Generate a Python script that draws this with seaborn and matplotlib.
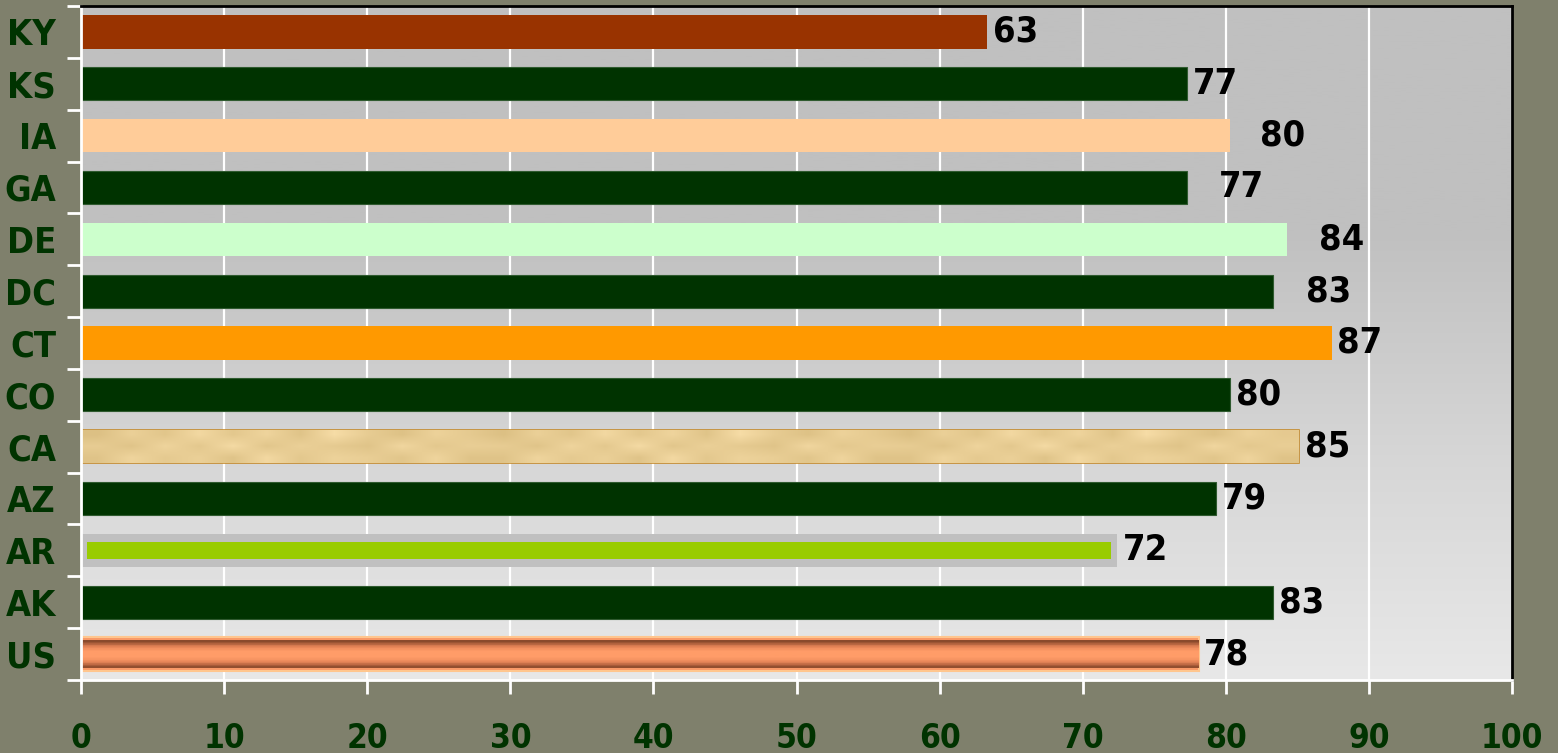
import numpy as np
import matplotlib
matplotlib.use("Agg")
import matplotlib.pyplot as plt
from matplotlib import font_manager
import seaborn as sns

# data
states = ['KY', 'KS', 'IA', 'GA', 'DE', 'DC', 'CT', 'CO', 'CA', 'AZ', 'AR', 'AK', 'US']
scores = [63.3, 77.3, 80.3, 77.3, 84.3, 83.3, 87.4, 80.3, 85.1, 79.3, 72.4, 83.3, 78.1]
labels = ['63', '77', '80', '77', '84', '83', '87', '80', '85', '79', '72', '83', '78']
bar_colors = ['#993300', '#003300', '#ffcc99', '#003300', '#ccffcc', '#003300', '#ff9900',
              '#003300', '#efd399', '#003300', '#c0c0c0', '#003300', '#f99a68']
# extra gap (in data units) between some bars and their value label
label_gap = {'IA': 1.7, 'GA': 1.8, 'DE': 1.8, 'DC': 1.9}

BG = '#7f806c'
TICK_GREEN = '#003300'

# the reference uses a narrow bold sans; take a condensed face if one is installed
allowed = {'Liberation Sans Narrow', 'DejaVu Sans', 'DejaVu Sans Condensed', 'Roboto Condensed',
           'Open Sans Condensed', 'Noto Sans Condensed', 'Liberation Sans'}
narrow = [f for f in font_manager.fontManager.ttflist
          if f.name in allowed and (f.stretch != 'normal' or 'Narrow' in f.name or 'Condensed' in f.name)
          and f.weight in (700, 'bold')]
if narrow:
    FONT = [narrow[0].name, 'DejaVu Sans']
    STRETCH = narrow[0].stretch
    LBL_SIZE, XT_SIZE = 26, 24
else:
    FONT = ['Liberation Sans', 'DejaVu Sans']
    STRETCH = 'normal'
    LBL_SIZE, XT_SIZE = 24, 22

sns.set_theme(style='white')
plt.rcParams['font.family'] = FONT

fig = plt.figure(figsize=(15.58, 7.53), dpi=100, facecolor=BG)
ax = fig.add_axes([0.052, 0.097, 0.9185, 0.895])

sns.barplot(x=scores, y=states, hue=states, palette=bar_colors, legend=False,
            orient='h', width=0.64, ax=ax, saturation=1, zorder=3)

# plot area gradient
grad = np.linspace(0, 1, 256).reshape(-1, 1)
ax.imshow(grad, extent=[0, 1, 0, 1], transform=ax.transAxes, aspect='auto',
          cmap=matplotlib.colors.LinearSegmentedColormap.from_list('bgg', ['#e8e8e8', '#d6d6d6', '#c0c0c0', '#c0c0c0']),
          origin='lower', zorder=0)

ax.set_xlim(0, 100)
ax.set_ylim(len(states) - 0.5, -0.5)

patches = ax.patches
for st, p in zip(states, patches):
    if bar_colors[states.index(st)] == '#003300':
        p.set_edgecolor('#2f5a2f')
        p.set_linewidth(0.8)
    else:
        p.set_edgecolor('none')

# CA: textured tan bar with brown border
ca = patches[states.index('CA')]
ca.set_edgecolor('#c48a2c')
ca.set_linewidth(1.2)
y0, h = ca.get_y(), ca.get_height()
tex = np.array([[0.2, 0.6, 0.35, 0.8, 0.4, 0.7, 0.3, 0.9, 0.5, 0.25, 0.65, 0.45] * 3,
                [0.5, 0.3, 0.7, 0.4, 0.85, 0.35, 0.6, 0.45, 0.3, 0.75, 0.4, 0.55] * 3,
                [0.3, 0.7, 0.45, 0.6, 0.3, 0.8, 0.4, 0.65, 0.55, 0.35, 0.7, 0.3] * 3])
im = ax.imshow(tex, extent=[0, ca.get_width(), y0 + h, y0], aspect='auto', zorder=3.5,
               interpolation='bilinear',
               cmap=matplotlib.colors.LinearSegmentedColormap.from_list('tan', ['#dcc084', '#f6dca6']))
im.set_clip_path(ca)

# US: copper tube look
us = patches[states.index('US')]
us.set_edgecolor('#ffc68e')
us.set_linewidth(1.5)
y0, h = us.get_y(), us.get_height()
tube = np.array([0.0, 0.25, 0.6, 0.85, 1.0, 1.0, 1.0, 0.9, 0.7, 0.35, 0.05]).reshape(-1, 1)
im2 = ax.imshow(tube, extent=[0, us.get_width(), y0 + h * 0.92, y0 + h * 0.08], aspect='auto', zorder=3.5,
                cmap=matplotlib.colors.LinearSegmentedColormap.from_list('cu', ['#8a4a2c', '#d97a50', '#ff9c68']))
im2.set_clip_path(us)

# AR: green core inside the grey bar
ar_i = states.index('AR')
ar = patches[ar_i]
ax.barh(ar_i, scores[ar_i] - 0.9, left=0.45, height=ar.get_height() * 0.5,
        color='#99cc00', edgecolor='none', zorder=4)

# value labels
for i, (st, v, lab) in enumerate(zip(states, scores, labels)):
    ax.text(v + 0.4 + label_gap.get(st, 0), i, lab, va='center', ha='left',
            fontsize=LBL_SIZE, fontweight='bold', fontstretch=STRETCH, color='black',
            zorder=5, family=FONT)

# grid and axes styling
ax.set_xticks(range(0, 101, 10))
ax.grid(axis='x', color='white', linewidth=1.6, zorder=1)
ax.grid(axis='y', visible=False)
ax.set_axisbelow(True)

ax.set_yticks(np.arange(-0.5, len(states), 1), minor=True)
ax.tick_params(axis='y', which='minor', left=True, length=10, width=2, color='white', direction='out')
ax.tick_params(axis='y', which='major', left=True, length=0, pad=18)
ax.tick_params(axis='x', bottom=True, length=10, width=2, color='white', direction='out', pad=20)

for lbl in ax.get_yticklabels() + ax.get_xticklabels():
    lbl.set_fontweight('bold')
    lbl.set_fontstretch(STRETCH)
    lbl.set_color(TICK_GREEN)
for lbl in ax.get_yticklabels():
    lbl.set_fontsize(LBL_SIZE)
for lbl in ax.get_xticklabels():
    lbl.set_fontsize(XT_SIZE)

ax.spines['left'].set_color('white')
ax.spines['bottom'].set_color('white')
ax.spines['left'].set_linewidth(2)
ax.spines['bottom'].set_linewidth(2)
ax.spines['top'].set_color('black')
ax.spines['right'].set_color('black')
ax.spines['top'].set_linewidth(2)
ax.spines['right'].set_linewidth(2)
for s in ax.spines.values():
    s.set_visible(True)
    s.set_zorder(6)

ax.set_xlabel('')
ax.set_ylabel('')

fig.savefig('out.png', dpi=100, facecolor=BG)
